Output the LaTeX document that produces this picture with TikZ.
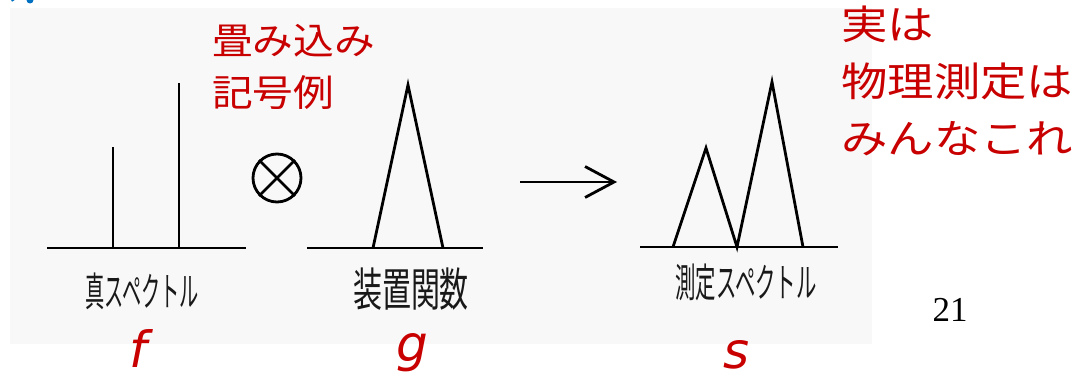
\documentclass[tikz,border=0pt]{standalone}
\usepackage{fontspec}
\setmainfont{Liberation Serif}
\newfontfamily\jpfont{Noto Sans CJK JP}
\newfontfamily\varfont{DejaVu Sans}
\usetikzlibrary{arrows.meta}
\definecolor{redtxt}{RGB}{200,0,0}
\definecolor{scan}{RGB}{248,248,248}
\definecolor{bluetxt}{RGB}{0,112,192}
\begin{document}
\begin{tikzpicture}[x=1pt,y=-1pt,
  pen/.style={line width=2.8pt, line join=miter, line cap=butt},
  hand/.style={font=\jpfont\fontsize{#1}{#1}\selectfont, inner sep=0pt, text=black!90},
  redlabel/.style={text=redtxt, inner sep=0pt, anchor=north west, align=left},
  varlbl/.style={text=redtxt, inner sep=0pt, anchor=base, font=\varfont\itshape\fontsize{50}{50}\selectfont}]
\useasboundingbox (0,0) rectangle (1085,379);
\fill[white] (0,0) rectangle (1085,379);
\fill[scan] (10,8) rectangle (872,344);
% blue fragment at top-left
\begin{scope}
\clip (0,0) rectangle (40,4);
\draw[bluetxt, line width=4pt] (0,-6) arc (-90:-10:14 and 8);
\fill[bluetxt] (30,0) circle (3.5);
\end{scope}
% panel 1: true spectrum
\draw[pen] (47,248) -- (246,248);
\draw[pen] (113,248) -- (113,147);
\draw[pen] (179,248) -- (179,83);
% convolution symbol
\node[circle, draw, line width=2.8pt, minimum size=48pt, inner sep=0pt] (conv) at (277,178) {};
\draw[pen] (conv.north west) -- (conv.south east);
\draw[pen] (conv.north east) -- (conv.south west);
% panel 2: instrument function
\draw[pen] (307,248) -- (483,248);
\draw[pen] (373,248) -- (408,85) -- (443,248);
% arrow
\coordinate (arrS) at (520,182);
\coordinate (arrE) at (617,182);
\draw[pen, -{Straight Barb[length=29pt, width=31pt, line width=2.8pt]}] (arrS) -- (arrE);
% panel 3: measured spectrum
\draw[pen] (640,247) -- (838,247);
\draw[pen] (673,247) -- (706,148) -- (737,247) -- (772,82) -- (803,247);
% handwritten labels
\node[hand=40, xscale=0.48] (lf) at (142,291) {真スペクトル};
\node[hand=46, xscale=0.63] (lg) at (411,289) {装置関数};
\node[hand=40, xscale=0.51] (ls) at (746,282) {測定スペクトル};
% red annotations
\node[redlabel, font=\jpfont\fontsize{37}{52}\selectfont, xscale=1.1] (conv-note) at (212,24) {畳み込み\\記号例};
\node[redlabel, font=\jpfont\fontsize{40}{57}\selectfont, xscale=1.16] (meas-note) at (841,6) {実は\\物理測定は\\みんなこれ};
% variable names
\node[varlbl] (vf) at (138,368) {f};
\node[varlbl] (vg) at (412,362) {g};
\node[varlbl] (vs) at (737,369) {s};
% page number
\node[font=\fontsize{35}{35}\selectfont, inner sep=0pt] (page) at (950,310) {21};
\end{tikzpicture}
\end{document}
